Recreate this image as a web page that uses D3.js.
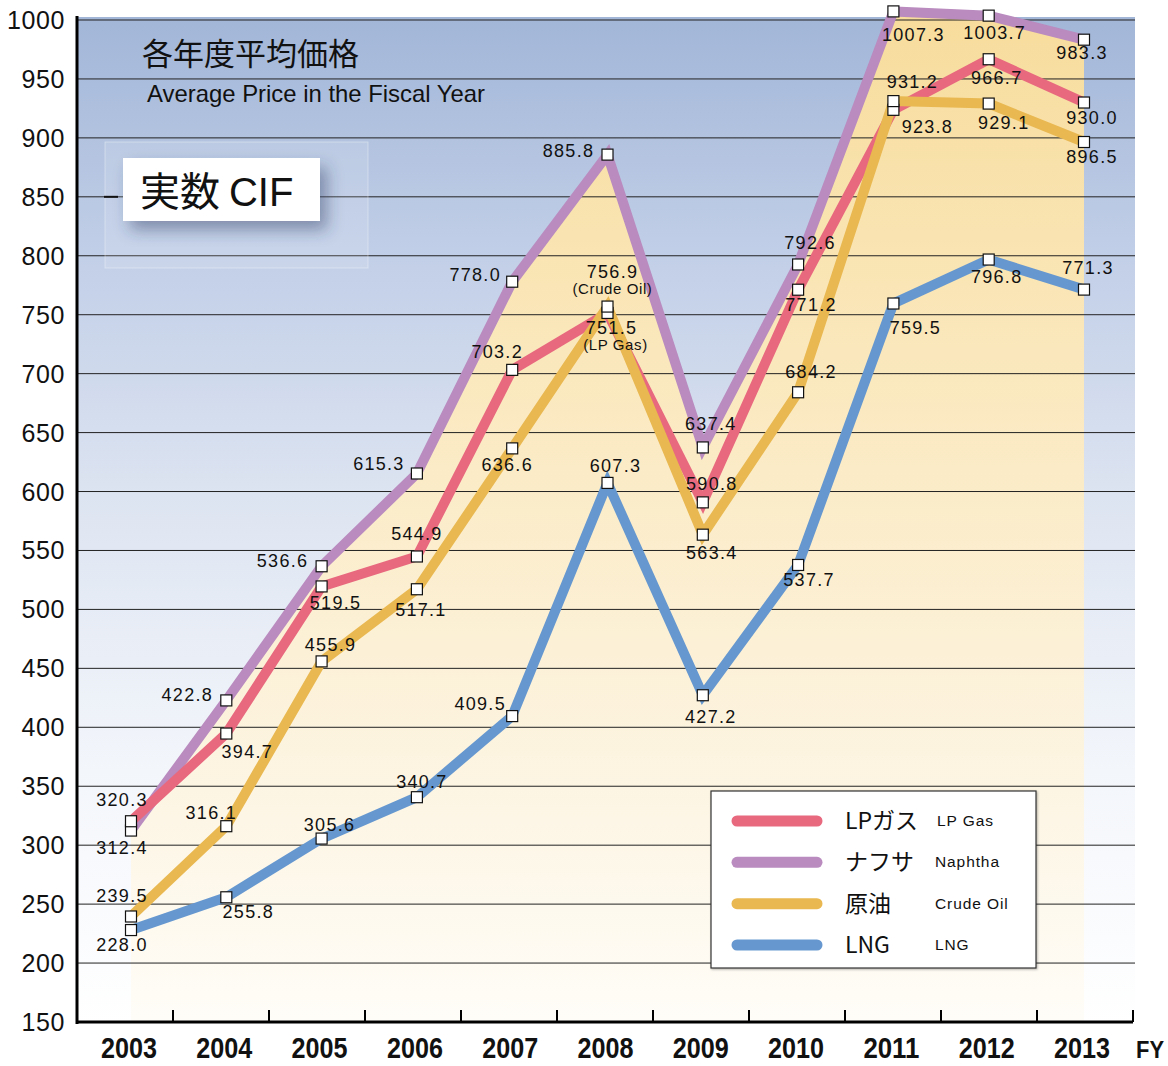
<!DOCTYPE html>
<html>
<head>
<meta charset="utf-8">
<script src="https://d3js.org/d3.v7.min.js"></script>
<style>
  body { margin: 0; background: #fff; }
  svg text { font-family: "Liberation Sans", Arial, sans-serif; }
  .jp { font-family: "Noto Sans CJK JP", sans-serif !important; }
  .lat { font-family: "Liberation Sans", Arial, sans-serif !important; }
  .val { font-size: 18px; letter-spacing: 1.3px; fill: #111; }
  .note { font-size: 15px; letter-spacing: 0.6px; fill: #111; }
  .grid line { stroke: #222; stroke-width: 1px; }
</style>
</head>
<body>
<svg id="chart" width="1168" height="1066"></svg>
<script>
// fiscal years
var years = ["2003","2004","2005","2006","2007","2008","2009","2010","2011","2012","2013"];

// average CIF prices per fiscal year
var lpGas   = [320.3, 394.7, 519.5, 544.9, 703.2, 751.5, 590.8, 771.2, 923.8, 966.7, 930.0];
var naphtha = [312.4, 422.8, 536.6, 615.3, 778.0, 885.8, 637.4, 792.6, 1007.3, 1003.7, 983.3];
var crude   = [239.5, 316.1, 455.9, 517.1, 636.6, 756.9, 563.4, 684.2, 931.2, 929.1, 896.5];
var lng     = [228.0, 255.8, 305.6, 340.7, 409.5, 607.3, 427.2, 537.7, 759.5, 796.8, 771.3];

var yTicks = d3.range(150, 1001, 50);

var series = [
  {key: "naphtha", jp: "ナフサ", en: "Naphtha", values: naphtha, color: "#b98bbf"},
  {key: "lp", jp: "LPガス", en: "LP Gas", values: lpGas, color: "#e8687e"},
  {key: "crude", jp: "原油", en: "Crude Oil", values: crude, color: "#e9b850"},
  {key: "lng", jp: "LNG", en: "LNG", values: lng, color: "#6698cf"}
];
var legendOrder = ["lp", "naphtha", "crude", "lng"];

// label placement (offset of label centre from the point)
var labelOffsets = {
  lp:      [[-9,-21],[21,18],[14,17],[0,-22],[-15,-18],[4,15],[9,-18],[13,15],[34,17],[8,19],[8,15]],
  naphtha: [[-9,17],[-39,-5],[-39,-5],[-38,-9],[-37,-7],[-39,-4],[8,-23],[12,-21],[20,24],[6,17],[-2,13]],
  crude:   [[-9,-20],[-15,-13],[9,-16],[4,21],[-5,17],[5,-35],[9,18],[13,-20],[19,-19],[15,19],[8,15]],
  lng:     [[-9,15],[22,15],[8,-14],[5,-15],[-32,-12],[8,-17],[8,22],[11,15],[22,24],[8,17],[4,-22]]
};
var notes = {lp: {5: ["(LP Gas)", 8, 32]}, crude: {5: ["(Crude Oil)", 5, -18]}};

var svg = d3.select("#chart");
var plotL = 77, plotR = 1135, plotT = 20, plotB = 1022;

var y = d3.scaleLinear().domain([150, 1000]).range([plotB, plotT]);
var x = d3.scalePoint().domain(years).range([131, 1084]);
var band = d3.scaleBand().domain(years).range([plotL, 1133]);

var defs = svg.append("defs");
var bg = defs.append("linearGradient").attr("id", "bg").attr("x1", 0).attr("y1", 0).attr("x2", 0).attr("y2", 1);
[[0, "#a2b6d8"], [0.25, "#c3d0e8"], [0.5, "#dfe6f2"], [0.75, "#f3f6fb"], [1, "#ffffff"]]
  .forEach(function(s) { bg.append("stop").attr("offset", s[0]).attr("stop-color", s[1]); });
var yel = defs.append("linearGradient").attr("id", "yel").attr("x1", 0).attr("y1", 0).attr("x2", 0).attr("y2", 1);
[[0, "#f7dc9c"], [0.45, "#fbebc6"], [0.8, "#fdf6e6"], [1, "#fffdf8"]]
  .forEach(function(s) { yel.append("stop").attr("offset", s[0]).attr("stop-color", s[1]); });
var sh = defs.append("filter").attr("id", "shadow").attr("x", "-30%").attr("y", "-30%").attr("width", "160%").attr("height", "170%");
sh.append("feDropShadow").attr("dx", 7).attr("dy", 9).attr("stdDeviation", 8)
  .attr("flood-color", "#2c3b62").attr("flood-opacity", 0.45);
var sh2 = defs.append("filter").attr("id", "shadow2");
sh2.append("feDropShadow").attr("dx", 1).attr("dy", 1).attr("stdDeviation", 1)
  .attr("flood-color", "#000").attr("flood-opacity", 0.3);

// plot background
svg.append("rect").attr("x", plotL).attr("y", plotT - 3).attr("width", plotR - plotL).attr("height", plotB - plotT + 3)
  .attr("fill", "url(#bg)");

// yellow area beneath the highest line
var maxVals = years.map(function(d, i) { return d3.max(series, function(s) { return s.values[i]; }); });
svg.append("path")
  .datum(maxVals)
  .attr("fill", "url(#yel)")
  .attr("d", d3.area().x(function(d, i) { return x(years[i]); }).y0(plotB).y1(function(d) { return y(d); }));

// grid
svg.append("g").attr("class", "grid")
  .selectAll("line").data(yTicks.filter(function(t) { return t > 150; }))
  .enter().append("line")
  .attr("x1", plotL).attr("x2", plotR)
  .attr("y1", function(d) { return y(d); }).attr("y2", function(d) { return y(d); });

// y labels
svg.append("g").selectAll("text").data(yTicks).enter().append("text")
  .attr("x", 65).attr("y", function(d) { return y(d) + 9; })
  .attr("text-anchor", "end")
  .style("font-size", "25px").style("letter-spacing", "0.6px").style("fill", "#111")
  .text(function(d) { return d; });

// title block
svg.append("text").attr("class", "jp").attr("x", 142).attr("y", 65)
  .style("font-size", "31px").style("fill", "#111").text("各年度平均価格");
svg.append("text").attr("x", 147).attr("y", 102)
  .attr("textLength", 338).attr("lengthAdjust", "spacingAndGlyphs")
  .style("font-size", "24px").style("fill", "#111").text("Average Price in the Fiscal Year");
svg.append("rect").attr("x", 105).attr("y", 142).attr("width", 263).attr("height", 126)
  .attr("fill", "#ffffff").attr("fill-opacity", 0.12).attr("stroke", "#ffffff").attr("stroke-opacity", 0.35);
svg.append("rect").attr("x", 104).attr("y", y(850) - 1).attr("width", 14).attr("height", 2).attr("fill", "#111");
svg.append("rect").attr("x", 123).attr("y", 158).attr("width", 197).attr("height", 63)
  .attr("fill", "#fff").attr("filter", "url(#shadow)");
var cif = svg.append("text").attr("x", 140).attr("y", 206).style("font-size", "40px").style("fill", "#111");
cif.append("tspan").attr("class", "jp").text("実数 ");
cif.append("tspan").attr("class", "lat").text("CIF");

// lines
var line = d3.line().x(function(d, i) { return x(years[i]); }).y(function(d) { return y(d); });
svg.append("g").selectAll("path").data(series).enter().append("path")
  .attr("d", function(s) { return line(s.values); })
  .attr("fill", "none").attr("stroke", function(s) { return s.color; })
  .attr("stroke-width", 10).attr("stroke-linejoin", "miter");

// markers
series.forEach(function(s) {
  svg.append("g").selectAll("rect").data(s.values).enter().append("rect")
    .attr("x", function(d, i) { return x(years[i]) - 5.5; })
    .attr("y", function(d) { return y(d) - 5.5; })
    .attr("width", 11).attr("height", 11)
    .attr("fill", "#fff").attr("stroke", "#111").attr("stroke-width", 1.2);
});

// value labels
series.forEach(function(s) {
  var offs = labelOffsets[s.key];
  svg.append("g").selectAll("text").data(s.values).enter().append("text")
    .attr("class", "val")
    .attr("x", function(d, i) { return x(years[i]) + offs[i][0]; })
    .attr("y", function(d, i) { return y(d) + offs[i][1]; })
    .attr("text-anchor", "middle").attr("dominant-baseline", "central")
    .text(function(d) { return d.toFixed(1); });
  var n = notes[s.key] || {};
  Object.keys(n).forEach(function(k) {
    var i = +k;
    svg.append("text").attr("class", "note")
      .attr("x", x(years[i]) + n[k][1]).attr("y", y(s.values[i]) + n[k][2])
      .attr("text-anchor", "middle").attr("dominant-baseline", "central")
      .text(n[k][0]);
  });
});

// axes
svg.append("line").attr("x1", plotL).attr("x2", plotL).attr("y1", plotT - 4).attr("y2", plotB + 2)
  .attr("stroke", "#000").attr("stroke-width", 3);
svg.append("line").attr("x1", plotL).attr("x2", 1133).attr("y1", plotB).attr("y2", plotB)
  .attr("stroke", "#000").attr("stroke-width", 3);
svg.append("g").selectAll("line").data(years).enter().append("line")
  .attr("x1", function(d) { return band(d) + band.bandwidth(); })
  .attr("x2", function(d) { return band(d) + band.bandwidth(); })
  .attr("y1", plotB - 12).attr("y2", plotB)
  .attr("stroke", "#000").attr("stroke-width", 2);
svg.append("g").selectAll("text").data(years).enter().append("text")
  .attr("x", function(d) { return x(d) - 2 - 28; })
  .attr("y", 1058)
  .attr("textLength", 56).attr("lengthAdjust", "spacingAndGlyphs")
  .style("font-weight", "bold").style("font-size", "30px").style("fill", "#111")
  .text(function(d) { return d; });
svg.append("text").attr("x", 1136).attr("y", 1058)
  .attr("textLength", 28).attr("lengthAdjust", "spacingAndGlyphs")
  .style("font-weight", "bold").style("font-size", "24px").style("fill", "#111").text("FY");

// legend
var lg = svg.append("g");
lg.append("rect").attr("x", 711).attr("y", 791).attr("width", 325).attr("height", 177)
  .attr("fill", "#fff").attr("stroke", "#333").attr("stroke-width", 1.2).attr("filter", "url(#shadow2)");
var legendItems = legendOrder.map(function(k) { return series.find(function(s) { return s.key === k; }); });
var ly = d3.scalePoint().domain(legendOrder).range([821, 945]);
var li = lg.selectAll("g.item").data(legendItems).enter().append("g").attr("class", "item");
li.append("line").attr("x1", 737).attr("x2", 817)
  .attr("y1", function(s) { return ly(s.key); }).attr("y2", function(s) { return ly(s.key); })
  .attr("stroke", function(s) { return s.color; }).attr("stroke-width", 11).attr("stroke-linecap", "round");
li.append("text").attr("class", "jp").attr("x", 845).attr("y", function(s) { return ly(s.key) + 8; })
  .style("font-size", "23px").style("fill", "#111").text(function(s) { return s.jp; });
li.append("text").attr("x", function(s) { return s.key === "lp" ? 937 : 935; })
  .attr("y", function(s) { return ly(s.key) + 5; })
  .style("font-size", "15.5px").style("letter-spacing", "0.9px").style("fill", "#111")
  .text(function(s) { return s.en; });
</script>
</body>
</html>
